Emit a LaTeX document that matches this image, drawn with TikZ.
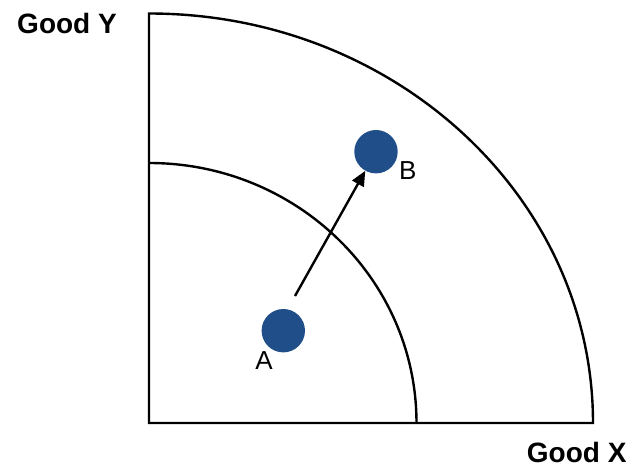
\documentclass[tikz,border=0pt]{standalone}
\usepackage{fontspec}
\setmainfont{Liberation Sans}
\usetikzlibrary{arrows.meta}
\definecolor{dotblue}{RGB}{31,78,137}
\tikzset{
  curve/.style={line width=2.4pt, line join=miter},
  dot/.style={circle, fill=dotblue, draw=none, minimum size=43.4pt, inner sep=0pt},
  axislabel/.style={font=\bfseries\fontsize{28}{32}\selectfont, inner sep=0pt},
  ptlabel/.style={font=\fontsize{26}{30}\selectfont, inner sep=0pt},
  move/.style={line width=2.4pt, -{Triangle[length=15pt,width=13pt]}}
}
\begin{document}
\begin{tikzpicture}
\useasboundingbox (0pt,0pt) rectangle (643pt,466pt);
% outer frontier and axes
\draw[curve] (149pt,43pt) -- (593pt,43pt)
  arc[start angle=0, end angle=90, x radius=444pt, y radius=409.5pt] -- cycle;
% inner frontier
\draw[curve] (149pt,303pt)
  arc[start angle=90, end angle=0, x radius=267.5pt, y radius=260pt];
% points
\node[dot] (A) at (283.3pt,135.3pt) {};
\node[dot] (B) at (376pt,314.3pt) {};
\node[ptlabel] (labA) at (264pt,105.3pt) {A};
\node[ptlabel] (labB) at (407.7pt,295pt) {B};
% arrow
\coordinate (arrS) at (295pt,170pt);
\draw[move] (arrS) -- (B);
% axis labels
\node[axislabel] (gy) at (67pt,442.7pt) {Good Y};
\node[axislabel] (gx) at (576.7pt,14pt) {Good X};
\end{tikzpicture}
\end{document}
